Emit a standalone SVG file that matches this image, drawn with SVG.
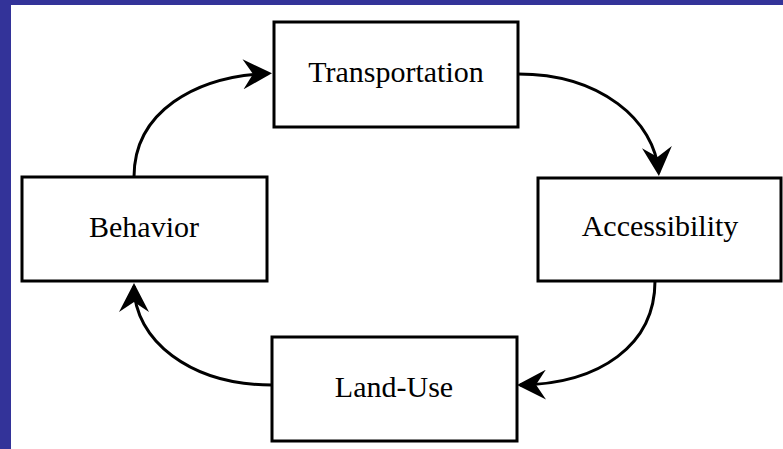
<svg xmlns="http://www.w3.org/2000/svg" width="783" height="449" viewBox="0 0 783 449">
<style>
.box{fill:#ffffff;stroke:#000000;stroke-width:3}
.lbl{font-family:"Liberation Serif","Times New Roman",serif;font-size:30px;fill:#000000;text-anchor:middle}
.conn{fill:none;stroke:#000000;stroke-width:3;marker-end:url(#arr)}
</style>
<defs>
<marker id="arr" markerUnits="userSpaceOnUse" viewBox="0 0 29 30" markerWidth="29" markerHeight="30" refX="26" refY="15" orient="auto">
<path d="M0,0 L29,15 L0,30 L10,15 Z" fill="#000000"/>
</marker>
</defs>
<rect x="0" y="0" width="783" height="449" fill="#ffffff"/>
<rect x="0" y="0" width="11" height="449" fill="#333399"/>
<rect x="0" y="0" width="783" height="5" fill="#333399"/>
<g id="connectors">
<path class="conn" d="M134,177 C134,112 195,76 269,73.4"/>
<path class="conn" d="M518,74 C600,74 655,120 658.7,173"/>
<path class="conn" d="M655,281 C655,345 600,384 520,385"/>
<path class="conn" d="M272,385 C190,385 134,340 134,286"/>
</g>
<g id="transportation">
<rect class="box" x="274" y="22" width="244" height="105"/>
<text class="lbl" x="396" y="82">Transportation</text>
</g>
<g id="accessibility">
<rect class="box" x="538" y="178" width="243" height="103"/>
<text class="lbl" x="660" y="236">Accessibility</text>
</g>
<g id="landuse">
<rect class="box" x="272" y="337" width="245" height="104"/>
<text class="lbl" x="394" y="397">Land-Use</text>
</g>
<g id="behavior">
<rect class="box" x="22" y="177" width="245" height="104"/>
<text class="lbl" x="144" y="237">Behavior</text>
</g>
</svg>
